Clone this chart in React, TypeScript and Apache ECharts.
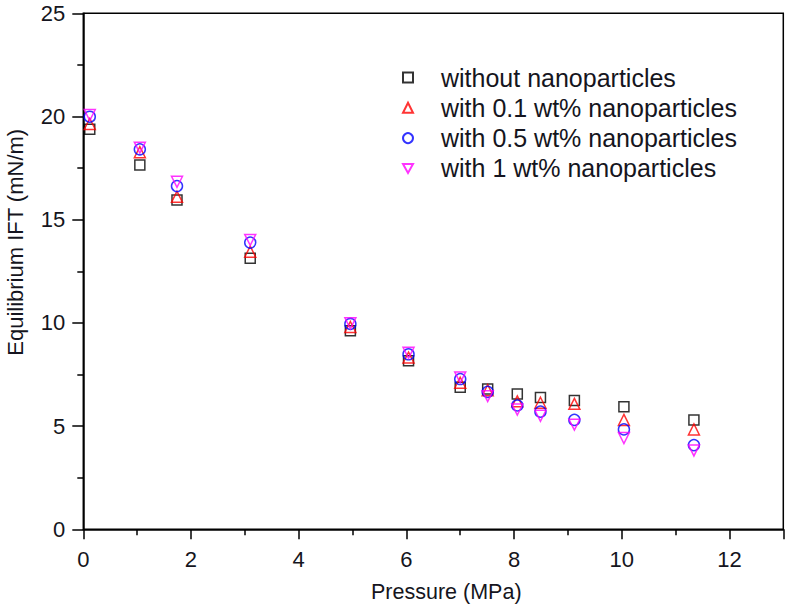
import React, { useEffect, useRef } from "react";
import * as echarts from "echarts";

const pressure = [0.12, 1.05, 1.74, 3.1, 4.96, 6.04, 7.0, 7.51, 8.06, 8.49, 9.12, 10.04, 11.34];
const without = [19.38, 17.65, 15.95, 13.13, 9.62, 8.17, 6.88, 6.8, 6.55, 6.38, 6.24, 5.94, 5.3];
const with01 = [19.64, 18.27, 16.11, 13.45, 9.8, 8.32, 7.1, 6.74, 6.2, 6.13, 6.08, 5.3, 4.84];
const with05 = [19.99, 18.41, 16.63, 13.89, 9.95, 8.48, 7.28, 6.66, 6.0, 5.7, 5.3, 4.84, 4.08];
const with1 = [20.07, 18.49, 16.84, 14.02, 9.98, 8.55, 7.36, 6.45, 5.8, 5.5, 5.07, 4.42, 3.82];

const seriesNames = [
  "without nanoparticles",
  "with 0.1 wt% nanoparticles",
  "with 0.5 wt% nanoparticles",
  "with 1 wt% nanoparticles",
];

const FONT = "'Liberation Sans', Arial, sans-serif";
const TXT = "#151520";

export default function App() {
  const ref = useRef<HTMLDivElement>(null);
  useEffect(() => {
    if (!ref.current) return;
    const chart = echarts.init(ref.current, null, { renderer: "svg" });
    const mk = (vals: number[]) => pressure.map((p, i) => [p, vals[i]]);
    const defs = [
      { data: without, color: "#000000", symbol: "rect" },
      { data: with01, color: "#ff0000", symbol: "triangle" },
      { data: with05, color: "#0000ff", symbol: "circle" },
      { data: with1, color: "#ff00ff", symbol: "path://M0,0L10,0L5,9Z" },
    ];
    chart.setOption({
      animation: false,
      backgroundColor: "#ffffff",
      grid: {
        left: 83.3,
        right: 2.7,
        top: 13.3,
        bottom: 83.7,
        show: true,
        borderColor: "#000",
        borderWidth: 1.5,
        containLabel: false,
        outerBoundsMode: "none",
      },
      legend: {
        orient: "vertical",
        left: 397,
        top: 60,
        itemWidth: 10,
        itemHeight: 10,
        itemGap: 5.3,
        textStyle: {
          fontFamily: FONT,
          fontSize: 25,
          lineHeight: 24,
          color: TXT,
          padding: [0, 0, 0, 23],
        },
        data: seriesNames,
      },
      xAxis: {
        type: "value",
        min: 0,
        max: 13,
        interval: 2,
        name: "Pressure (MPa)",
        nameLocation: "middle",
        nameGap: 52,
        nameTextStyle: { fontFamily: FONT, fontSize: 21.5, color: TXT, padding: [0, 0, 0, 26] },
        axisLine: { show: true, onZero: false, lineStyle: { color: "#000", width: 1.5 } },
        axisTick: { show: true, inside: false, length: 10, lineStyle: { color: "#000", width: 1.5 } },
        minorTick: { show: true, splitNumber: 2, length: 6, lineStyle: { color: "#000", width: 1.5 } },
        axisLabel: {
          fontFamily: FONT,
          fontSize: 22,
          color: TXT,
          margin: 19,
          showMaxLabel: false,
          formatter: (v: number) => (v % 2 === 0 ? String(v) : ""),
        },
        splitLine: { show: false },
      },
      yAxis: {
        type: "value",
        min: 0,
        max: 25,
        interval: 5,
        name: "Equilibrium IFT (mN/m)",
        nameLocation: "middle",
        nameGap: 57,
        nameTextStyle: { fontFamily: FONT, fontSize: 22, color: TXT, padding: [0, 0, 0, 58] },
        axisLine: { show: true, onZero: false, lineStyle: { color: "#000", width: 1.5 } },
        axisTick: { show: true, inside: false, length: 11, lineStyle: { color: "#000", width: 1.5 } },
        minorTick: { show: true, splitNumber: 2, length: 6, lineStyle: { color: "#000", width: 1.5 } },
        axisLabel: { fontFamily: FONT, fontSize: 22, color: TXT, margin: 18 },
        splitLine: { show: false },
      },
      series: defs.map((d, i) => ({
        name: seriesNames[i],
        type: "scatter",
        data: mk(d.data),
        symbol: d.symbol,
        symbolSize: d.symbol === "rect" ? 10 : 11,
        itemStyle: {
          color: "rgba(0,0,0,0)",
          borderColor: d.color,
          borderWidth: 1.5,
        },
        z: 2 + i,
      })),
    });
    return () => chart.dispose();
  }, []);
  return <div ref={ref} style={{ width: 786, height: 613, position: "absolute", left: 0, top: 0 }} />;
}
